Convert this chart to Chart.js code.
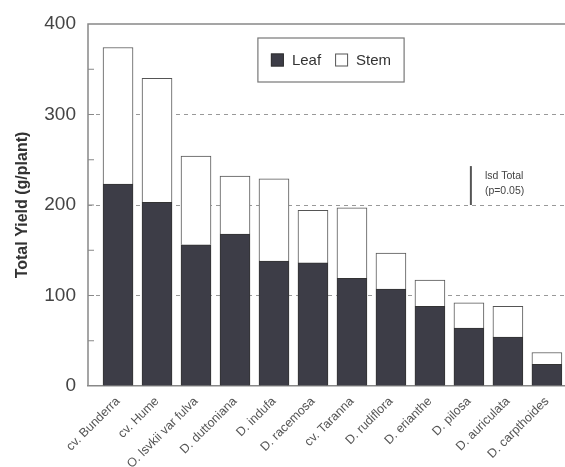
<!DOCTYPE html>
<html>
<head>
<meta charset="utf-8">
<script src="https://cdn.jsdelivr.net/npm/chart.js@4"></script>
<style>
  html, body { margin: 0; padding: 0; background: #fff; overflow: hidden; }
  #wrap { width: 582px; height: 467px; position: relative; }
</style>
</head>
<body>
<div id="wrap"><canvas id="myChart"></canvas></div>
<script>
const categories = ['cv. Bunderra', 'cv. Hume', 'O. lsvkii var fulva', 'D. duttoniana', 'D. indufa',
  'D. racemosa', 'cv. Taranna', 'D. rudiflora', 'D. erianthe', 'D. pilosa', 'D. auriculata', 'D. carpthoides'];
const leaf = [223, 203, 156, 168, 138, 136, 119, 107, 88, 64, 54, 24];
const stem = [151, 137, 98, 64, 91, 58, 78, 40, 29, 28, 34, 13];
const yTicks = [0, 100, 200, 300, 400];
const lsdBase = 200, lsdValue = 43, lsdAt = 9.05;

const grey = '#444';
const fontFam = '"Liberation Sans", Arial, sans-serif';
Chart.defaults.font.family = fontFam;
Chart.defaults.color = grey;

const framePlugin = {
  id: 'frame',
  afterDraw(chart) {
    const c = chart.ctx, a = chart.chartArea;
    const x = chart.scales.x, y = chart.scales.y;
    c.save();
    c.strokeStyle = '#888';
    c.lineWidth = 1.5;
    c.beginPath();
    c.moveTo(a.left, a.bottom);
    c.lineTo(a.left, a.top);
    c.lineTo(a.right, a.top);
    c.stroke();
    // small ticks inside the left axis
    c.lineWidth = 1;
    for (let v = 50; v < 400; v += 50) {
      const py = y.getPixelForValue(v);
      c.beginPath();
      c.moveTo(a.left, py);
      c.lineTo(a.left + 6, py);
      c.stroke();
    }

    // legend, drawn by hand so it can sit inside the plot with a frame
    c.font = '15px ' + fontFam;
    c.textBaseline = 'middle';
    const sets = chart.data.datasets;
    const box = 13, gap = 8, between = 14, padX = 13;
    let w = 0;
    sets.forEach((d, i) => { w += box + gap + c.measureText(d.label).width + (i ? between : 0); });
    const cx = 331, ly = 60;
    const bx = cx - w / 2 - padX;
    c.strokeStyle = '#777';
    c.lineWidth = 1.2;
    c.strokeRect(bx, 38, w + padX * 2, 44);
    let px = cx - w / 2;
    sets.forEach((d, i) => {
      if (i) px += between;
      c.fillStyle = d.backgroundColor;
      c.fillRect(px, ly - box / 2, box, box);
      c.strokeStyle = d.borderColor;
      c.lineWidth = 1;
      c.strokeRect(px + 0.5, ly - box / 2 + 0.5, box - 1, box - 1);
      px += box + gap;
      c.fillStyle = '#333';
      c.fillText(d.label, px, ly + 1);
      px += c.measureText(d.label).width;
    });

    // lsd bar
    const lx = x.getPixelForValue(lsdAt);
    c.strokeStyle = '#555';
    c.lineWidth = 2;
    c.beginPath();
    c.moveTo(lx, y.getPixelForValue(lsdBase));
    c.lineTo(lx, y.getPixelForValue(lsdBase + lsdValue));
    c.stroke();
    c.fillStyle = grey;
    c.font = '10.5px ' + fontFam;
    c.fillText('lsd Total', lx + 14, y.getPixelForValue(lsdBase + 32));
    c.fillText('(p=0.05)', lx + 14, y.getPixelForValue(lsdBase + 15));
    c.restore();
  }
};

const ctx = document.getElementById('myChart').getContext('2d');
let myChart = new Chart(ctx, {
  type: 'bar',
  data: {
    datasets: [{
      label: 'Leaf',
      data: leaf.map((v, i) => ({ x: i, y: v })),
      backgroundColor: '#3d3d47',
      borderColor: '#333',
      borderWidth: 1,
      stack: 's',
      barThickness: 30
    }, {
      label: 'Stem',
      data: stem.map((v, i) => ({ x: i, y: v })),
      backgroundColor: '#fff',
      borderColor: '#555',
      borderWidth: 1,
      stack: 's',
      barThickness: 30
    }]
  },
  options: {
    responsive: true,
    maintainAspectRatio: false,
    animation: false,
    layout: { padding: { left: 13, top: 24, right: 0, bottom: 0 } },
    plugins: {
      tooltip: { enabled: false },
      legend: { display: false }
    },
    scales: {
      x: {
        type: 'linear',
        offset: false,
        min: -0.77,
        max: 11.9,
        afterFit(s) { s.height = 81; },
        afterBuildTicks(s) { s.ticks = categories.map((_, i) => ({ value: i })); },
        grid: { display: false },
        border: { color: '#888', width: 1.5 },
        ticks: {
          maxRotation: 45,
          minRotation: 45,
          autoSkip: false,
          padding: 0,
          color: '#555',
          font: { size: 12.5 },
          callback: v => categories[v]
        }
      },
      y: {
        min: 0,
        max: 400,
        afterFit(s) { s.width = 75; },
        afterBuildTicks(s) { s.ticks = yTicks.map(v => ({ value: v })); },
        grid: {
          drawTicks: false,
          color: c => (c.tick && c.tick.value > 0 && c.tick.value < 400) ? '#999' : 'rgba(0,0,0,0)',
          lineWidth: 1
        },
        border: { display: false, dash: [4, 4] },
        ticks: { padding: 12, color: grey, font: { size: 19 } },
        title: {
          display: true,
          text: 'Total Yield (g/plant)',
          color: '#333',
          font: { size: 16, weight: 'bold' },
          padding: { top: 0, bottom: 2 }
        }
      }
    }
  },
  plugins: [framePlugin]
});
</script>
</body>
</html>
